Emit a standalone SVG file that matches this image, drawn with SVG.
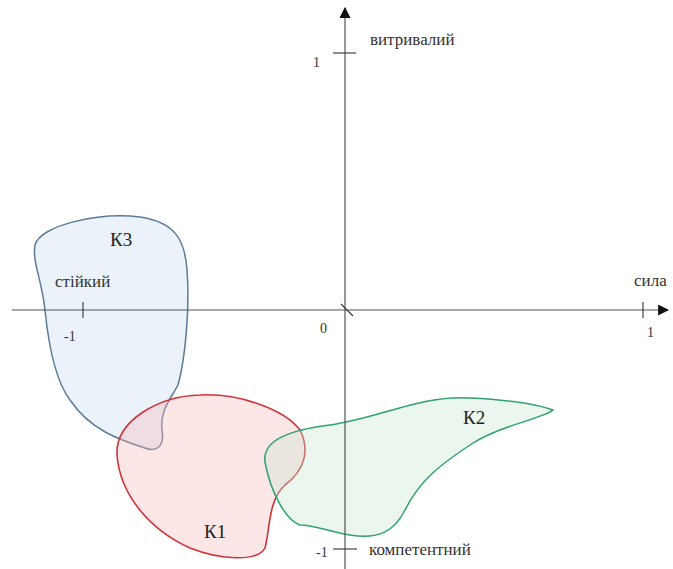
<svg xmlns="http://www.w3.org/2000/svg" width="673" height="569" viewBox="0 0 673 569">
<defs>
<marker id="arr" viewBox="0 0 10 10" refX="9" refY="5" markerWidth="11" markerHeight="11" markerUnits="userSpaceOnUse" orient="auto">
<path d="M0,0 L10,5 L0,10 Z" fill="#111"/>
</marker>
</defs>
<style>
.ax{stroke:#555;stroke-width:1.2;fill:none}
.tk{stroke:#333;stroke-width:1.1}
.lbl{font-family:"Liberation Serif",serif;font-size:17px;fill:#333}
.num{font-family:"Liberation Serif",serif;font-size:14px;fill:#333}
.cl{font-family:"Liberation Serif",serif;font-size:19px;fill:#222}
</style>
<rect width="673" height="569" fill="#fff"/>
<g id="K3">
<path d="M 35,245 C 40,225 100,212 140,217 C 175,222 185,240 187,270 C 190,310 185,360 178,385 C 170,400 160,410 162,430 C 165,448 155,452 145,448 C 120,440 90,430 70,400 C 55,380 48,340 45,310 C 42,280 32,262 35,245 Z" fill="#c9d9f0" fill-opacity="0.35" stroke="#5b7c98" stroke-width="1.5"/>
<text class="cl" x="110" y="246">К3</text>
</g>
<g id="K1">
<path d="M 200,395 C 240,393 285,410 300,430 C 310,450 305,470 285,485 C 268,500 270,530 265,548 C 258,562 220,560 190,548 C 150,530 120,495 117,455 C 115,420 160,396 200,395 Z" fill="#f7b8b8" fill-opacity="0.35" stroke="#d0343a" stroke-width="1.6"/>
<text class="cl" x="204" y="538">К1</text>
</g>
<g id="K2">
<path d="M 265,462 C 262,440 290,430 330,425 C 380,418 420,395 470,398 C 510,400 540,405 553,410 C 545,418 500,425 470,445 C 440,465 420,480 405,510 C 395,530 380,540 350,535 C 330,532 315,525 300,525 C 285,520 270,490 265,462 Z" fill="#c2e6cf" fill-opacity="0.35" stroke="#2ea36e" stroke-width="1.5"/>
<text class="cl" x="463" y="424">К2</text>
</g>
<g id="axes">
<line class="ax" x1="12" y1="310" x2="668" y2="310" marker-end="url(#arr)"/>
<line class="ax" x1="345" y1="569" x2="345" y2="8" marker-end="url(#arr)"/>
<line class="tk" x1="333" y1="53" x2="356" y2="53"/>
<line class="tk" x1="333" y1="549" x2="357" y2="549"/>
<line class="tk" x1="83" y1="302" x2="83" y2="318"/>
<line class="tk" x1="643" y1="302" x2="643" y2="318"/>
<line class="tk" x1="341" y1="304" x2="353" y2="316"/>
</g>
<g id="labels">
<text class="lbl" x="370" y="45">витривалий</text>
<text class="num" x="313" y="67">1</text>
<text class="lbl" x="55" y="287">стійкий</text>
<text class="num" x="64" y="341">-1</text>
<text class="lbl" x="634" y="286">сила</text>
<text class="num" x="647" y="337">1</text>
<text class="num" x="320" y="333">0</text>
<text class="num" x="316" y="557">-1</text>
<text class="lbl" x="369" y="555">компетентний</text>
</g>
</svg>
